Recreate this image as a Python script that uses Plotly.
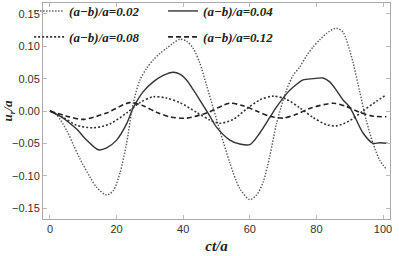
import plotly.graph_objects as go

# ct/a sample points and u_r/a values for each (a-b)/a
ct_002 = [0, 2, 5, 7, 9, 12, 14, 17, 19, 21, 23, 25, 27, 29, 31, 33, 35, 37, 39, 41, 43, 45, 47, 49, 51, 54, 57, 60, 62, 64, 66, 68, 71, 73, 75, 77, 79, 81, 83, 86, 88, 89, 91, 93, 95, 97, 99, 101]
u_002 = [0.0, -0.006, -0.03, -0.052, -0.074, -0.102, -0.118, -0.13, -0.123, -0.096, -0.05, 0.012, 0.048, 0.066, 0.079, 0.089, 0.097, 0.105, 0.111, 0.108, 0.097, 0.074, 0.04, 0.005, -0.03, -0.08, -0.12, -0.137, -0.13, -0.11, -0.07, -0.02, 0.032, 0.055, 0.068, 0.085, 0.099, 0.11, 0.12, 0.128, 0.122, 0.11, 0.075, 0.03, -0.015, -0.05, -0.076, -0.09]

ct_004 = [0, 3, 5, 8, 11, 14.5, 17, 20, 23, 25, 28, 31, 34, 37, 39, 41, 43, 45, 48, 50, 54, 57, 60, 63, 66, 68, 70, 72, 74, 76, 79, 82, 84, 86, 88, 90, 92, 94, 97, 99, 101.5]
u_004 = [0.0, -0.008, -0.015, -0.028, -0.045, -0.06, -0.057, -0.045, -0.02, 0.005, 0.03, 0.045, 0.055, 0.06, 0.057, 0.048, 0.033, 0.017, -0.008, -0.025, -0.045, -0.051, -0.052, -0.034, -0.01, 0.006, 0.02, 0.032, 0.041, 0.048, 0.05, 0.051, 0.045, 0.032, 0.017, 0.006, -0.014, -0.034, -0.05, -0.049, -0.05]

ct_008 = [0, 4, 8, 13, 18, 23, 27, 31, 35, 39, 44, 48, 51, 55, 59, 63, 67, 71, 75, 79, 83, 86, 90, 94, 98, 101]
u_008 = [0.0, -0.01, -0.022, -0.026, -0.02, -0.003, 0.013, 0.022, 0.02, 0.013, -0.002, -0.014, -0.019, -0.013, 0.003, 0.017, 0.023, 0.018, 0.005, -0.01, -0.021, -0.023, -0.015, 0.0, 0.015, 0.025]

ct_012 = [0, 5, 10, 17, 24, 28, 32, 36, 41, 47, 54, 58, 62, 66, 70, 74, 78, 85, 89, 93, 97, 101]
u_012 = [0.0, -0.008, -0.013, -0.003, 0.013, 0.008, -0.002, -0.009, -0.011, -0.003, 0.012, 0.008, 0.0, -0.008, -0.011, -0.005, 0.004, 0.012, 0.007, -0.002, -0.008, -0.009]

names = ["(a\u2212b)/a=0.02", "(a\u2212b)/a=0.04", "(a\u2212b)/a=0.08", "(a\u2212b)/a=0.12"]

fig = go.Figure()
fig.add_trace(go.Scatter(x=ct_002, y=u_002, mode="lines", name=names[0], line=dict(color="#555", width=1.4, dash="1.4px,1.6px", shape="spline", smoothing=0.8), legend="legend"))
fig.add_trace(go.Scatter(x=ct_004, y=u_004, mode="lines", name=names[1], line=dict(color="#333", width=1.4, dash="solid", shape="spline", smoothing=0.8), legend="legend2"))
fig.add_trace(go.Scatter(x=ct_008, y=u_008, mode="lines", name=names[2], line=dict(color="#333", width=1.6, dash="2px,2px", shape="spline", smoothing=0.8), legend="legend3"))
fig.add_trace(go.Scatter(x=ct_012, y=u_012, mode="lines", name=names[3], line=dict(color="#222", width=1.6, dash="5px,3px", shape="spline", smoothing=0.8), legend="legend4"))

leg_common = dict(bgcolor="rgba(0,0,0,0)", borderwidth=0,
                  font=dict(family="Liberation Serif", size=13, color="#222", weight="bold", style="italic"),
                  xanchor="left", yanchor="middle")

col1, col2 = -0.04, 0.346
row1, row2 = 0.963, 0.843

fig.update_layout(
    width=399, height=256,
    margin=dict(l=43, r=9, t=3, b=37, autoexpand=False),
    paper_bgcolor="white", plot_bgcolor="white",
    showlegend=True,
    legend=dict(x=col1, y=row1, **leg_common),
    legend2=dict(x=col2, y=row1, **leg_common),
    legend3=dict(x=col1, y=row2, **leg_common),
    legend4=dict(x=col2, y=row2, **leg_common),
    xaxis=dict(range=[-2.1, 102.1], tickvals=[0, 20, 40, 60, 80, 100], showgrid=False, zeroline=False,
               showline=True, linecolor="#aaa", linewidth=1, mirror="ticks", ticks="inside", ticklen=4, tickcolor="#bbb",
               tickfont=dict(family="Liberation Sans", size=11, color="#333"), automargin=False,
               title=dict(text="ct/a", font=dict(family="Liberation Serif", size=15, color="#222", weight="bold", style="italic"), standoff=6)),
    yaxis=dict(range=[-0.167, 0.167], tickvals=[-0.15, -0.10, -0.05, 0.0, 0.05, 0.10, 0.15], tickformat=".2f",
               showgrid=False, zeroline=False, automargin=False,
               showline=True, linecolor="#aaa", linewidth=1, mirror="ticks", ticks="inside", ticklen=4, tickcolor="#bbb",
               tickfont=dict(family="Liberation Sans", size=11, color="#333"),
               title=dict(text="u<sub>r</sub>/a", font=dict(family="Liberation Serif", size=13, color="#222", weight="bold", style="italic"), standoff=9)),
)

fig.write_html("out.html")
